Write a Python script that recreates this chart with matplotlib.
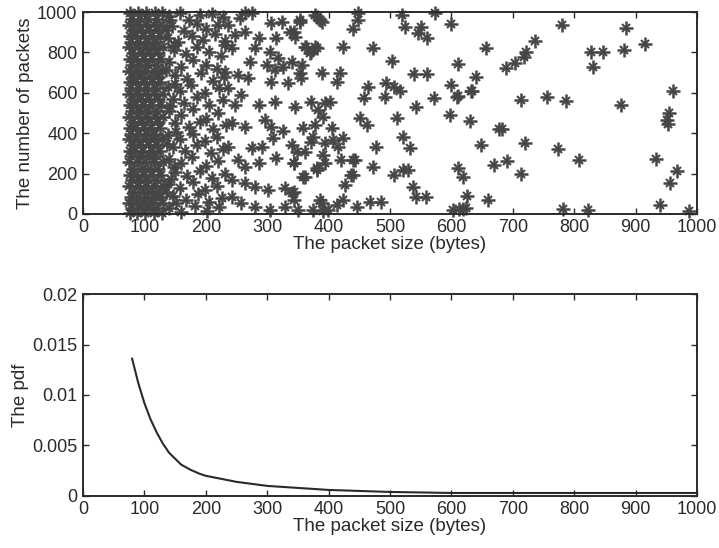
import matplotlib
matplotlib.use("Agg")
import matplotlib.pyplot as plt

# --- packet sizes vs packet index ---
# dense band of small packets: (y, [x values])
band_rows = [
    (5, [76, 88, 101, 115, 128]), (30, [80, 94, 107, 121]),
    (55, [75, 86, 99, 112, 131]), (85, [78, 92, 105, 118, 126]),
    (110, [83, 97, 110, 124]), (140, [75, 89, 102, 116, 130]),
    (170, [80, 93, 106, 120]), (195, [77, 86, 99, 113, 127]),
    (225, [82, 96, 109, 122]), (255, [75, 88, 101, 115, 131]),
    (285, [79, 93, 107, 119]), (310, [76, 85, 98, 112, 126]),
    (340, [81, 95, 108, 121]), (370, [75, 88, 102, 116, 129]),
    (395, [79, 92, 105, 118]), (425, [77, 86, 99, 111, 125]),
    (455, [82, 96, 109, 122]), (480, [75, 89, 103, 117, 130]),
    (510, [80, 93, 106, 120]), (540, [76, 86, 100, 113, 127]),
    (570, [82, 95, 108, 123]), (595, [75, 88, 102, 115, 131]),
    (625, [79, 92, 105, 119]), (655, [77, 86, 99, 112, 126]),
    (680, [81, 95, 109, 122]), (710, [75, 88, 101, 116, 129]),
    (740, [80, 93, 106, 120]), (765, [76, 86, 99, 113, 127]),
    (795, [82, 96, 109, 123]), (825, [75, 89, 102, 116, 130]),
    (850, [79, 92, 106, 119]), (880, [77, 86, 100, 112, 126]),
    (910, [81, 95, 108, 122]), (935, [75, 88, 102, 115, 129]),
    (965, [80, 93, 106, 120]), (995, [76, 89, 103, 117, 128]),
]

mid_x = [140, 158, 172, 190, 210, 228, 145, 165, 185, 200, 220,
         138, 155, 178, 196, 215, 232, 148, 168, 186, 205, 225,
         140, 160, 180, 200, 218, 150, 170, 192, 212, 230,
         138, 158, 176, 198, 222, 146, 165, 185, 206, 228,
         140, 160, 180, 200, 220, 150, 172, 190, 212, 233,
         138, 158, 180, 198, 218, 146, 166, 186, 208, 228,
         140, 160, 178, 200, 220, 150, 170, 190, 210, 232,
         138, 158, 180, 198, 218, 146, 168, 188, 206, 226,
         140, 160, 182, 202, 222,
         135, 148, 136, 150, 142, 152, 137, 149, 144, 135, 151, 141]
mid_y = [980, 995, 960, 985, 990, 975, 930, 905, 940, 915, 935,
         870, 850, 880, 860, 890, 855, 810, 790, 825, 800, 780,
         750, 730, 760, 740, 720, 690, 670, 700, 660, 680,
         630, 610, 640, 600, 625, 570, 550, 580, 540, 565,
         510, 490, 520, 470, 500, 450, 430, 455, 420, 440,
         390, 370, 395, 360, 380, 330, 310, 340, 300, 320,
         270, 250, 280, 240, 260, 210, 190, 215, 180, 200,
         150, 130, 160, 120, 140, 90, 70, 100, 60, 80,
         30, 10, 40, 15, 35,
         910, 835, 715, 645, 535, 405, 345, 235, 175, 110, 55, 960]

sparse_x = [264, 275, 256, 307, 324, 353, 381, 389, 237, 248, 264, 286,
            315, 337, 345, 231, 242, 280, 305, 362, 372, 381, 272, 299,
            318, 340, 356, 326, 313, 389, 231, 253, 269, 237, 258, 248,
            286, 307, 334, 313, 345, 394,
            242, 264, 296, 307, 326, 375, 394, 310, 340, 362, 315, 237,
            253, 275, 291, 286, 264, 343, 362, 381, 394, 242, 264, 280,
            302, 329, 340, 242, 258, 280, 305, 329, 351, 389, 399,
            378, 386, 353, 448, 448, 440, 519, 524, 551, 546, 560, 574,
            600, 343, 424, 473, 364, 378, 370, 504, 419, 413, 353, 355,
            539, 561, 600, 609, 633, 464, 494, 506, 516, 457, 492, 543,
            572, 372, 402, 383, 391, 451, 462, 511, 598, 359, 378, 405,
            372, 348, 343, 359, 391, 381, 408, 424, 416, 421, 440, 440,
            427, 478, 522, 533, 473, 506, 522, 530, 538, 543, 559, 386,
            375, 391, 413, 424, 446, 467, 486, 343, 343, 603, 619, 437,
            443,
            656, 610, 640, 632, 610, 630, 678, 649, 670, 610, 619, 625,
            659, 612, 624,
            780, 885, 736, 915, 722, 718, 704, 689, 828, 847, 881, 830,
            961, 713, 756, 786, 877, 954, 951, 952, 682, 720, 774, 690,
            808, 933, 968, 956, 714, 781, 823, 939, 987]
sparse_y = [993, 993, 968, 944, 952, 960, 977, 952, 936, 886, 902, 869,
            869, 902, 878, 837, 820, 820, 803, 828, 803, 820, 754, 738,
            771, 754, 738, 729, 713, 696, 704, 688, 672, 622, 589, 540,
            540, 655, 647, 556, 531, 548,
            449, 432, 465, 432, 412, 383, 350, 375, 342, 308, 276, 333,
            267, 325, 333, 251, 234, 251, 185, 218, 251, 168, 152, 135,
            119, 127, 102, 86, 53, 36, 20, 36, 20, 53, 20,
            985, 960, 952, 993, 960, 914, 985, 927, 927, 897, 870, 997,
            940, 903, 825, 820, 828, 828, 795, 759, 696, 655, 696, 673,
            693, 693, 639, 581, 609, 630, 647, 627, 610, 573, 578, 531,
            573, 556, 556, 515, 482, 474, 441, 474, 490, 424, 441, 424,
            358, 308, 251, 185, 292, 226, 366, 375, 333, 267, 267, 193,
            144, 333, 383, 325, 234, 193, 218, 218, 135, 86, 86, 69,
            20, 16, 45, 69, 36, 61, 61, 110, 69, 20, 23, 193,
            267,
            820, 741, 680, 609, 586, 460, 421, 342, 243, 229, 185, 91,
            69, 25, 30,
            936, 919, 858, 840, 803, 779, 746, 721, 803, 803, 812, 729,
            610, 564, 581, 561, 540, 498, 465, 446, 419, 350, 322, 262,
            267, 274, 214, 152, 198, 23, 20, 45, 16]

# --- pdf of packet size ---
pdf_x = [80, 90, 100, 110, 120, 130, 140, 150, 160, 175, 190, 200, 225,
         250, 275, 300, 350, 400, 450, 500, 600, 700, 800, 900, 1000]
pdf_y = [0.0136, 0.0112, 0.0092, 0.0076, 0.0063, 0.0052, 0.0043, 0.0037,
         0.0031, 0.0026, 0.0022, 0.0020, 0.0017, 0.0014, 0.0012, 0.0010,
         0.0008, 0.0006, 0.0005, 0.0004, 0.0003, 0.0003, 0.0003, 0.0003,
         0.0003]

band_x = [x for y, xs in band_rows for x in xs]
band_y = [y for y, xs in band_rows for x in xs]
all_x = band_x + mid_x + sparse_x
all_y = band_y + mid_y + sparse_y

plt.rcParams['font.family'] = ['Liberation Sans', 'DejaVu Sans']
plt.rcParams['font.size'] = 13
ink = '#2a2a2a'
mark = '#454545'

fig = plt.figure(figsize=(7.19, 5.48), dpi=100)
ax1 = fig.add_axes([0.1154, 0.6095, 0.854, 0.3686])
ax2 = fig.add_axes([0.1154, 0.0949, 0.854, 0.3686])

# MATLAB-like '*' marker: long + arms with shorter diagonals
ax1.plot(all_x, all_y, linestyle='none', marker='+', ms=10, mew=1.8,
         color=mark, clip_on=False)
ax1.plot(all_x, all_y, linestyle='none', marker='x', ms=6, mew=1.5,
         color=mark, clip_on=False)
ax1.set_xlim(0, 1000)
ax1.set_ylim(0, 1000)
ax1.set_xticks(range(0, 1001, 100))
ax1.set_yticks(range(0, 1001, 200))
ax1.set_xlabel("The packet size (bytes)", labelpad=0, fontsize=13.5)
ax1.set_ylabel("The number of packets", labelpad=2, fontsize=13.5)

ax2.plot(pdf_x, pdf_y, color=ink, lw=1.5)
ax2.set_xlim(0, 1000)
ax2.set_ylim(0, 0.02)
ax2.set_xticks(range(0, 1001, 100))
ax2.set_yticks([0, 0.005, 0.01, 0.015, 0.02])
ax2.set_yticklabels(['0', '0.005', '0.01', '0.015', '0.02'])
ax2.set_xlabel("The packet size (bytes)", labelpad=0, fontsize=13.5)
ax2.set_ylabel("The pdf", labelpad=2, fontsize=13.5)

for ax in (ax1, ax2):
    ax.tick_params(direction='in', top=True, right=True, length=4,
                   width=1, colors=ink)
    ax.tick_params(axis='x', pad=3.5)
    ax.tick_params(axis='y', pad=4)
    for s in ax.spines.values():
        s.set_linewidth(1.4)
        s.set_color(ink)
    ax.xaxis.label.set_color(ink)
    ax.yaxis.label.set_color(ink)

fig.savefig("out.png", dpi=100, facecolor='white')
